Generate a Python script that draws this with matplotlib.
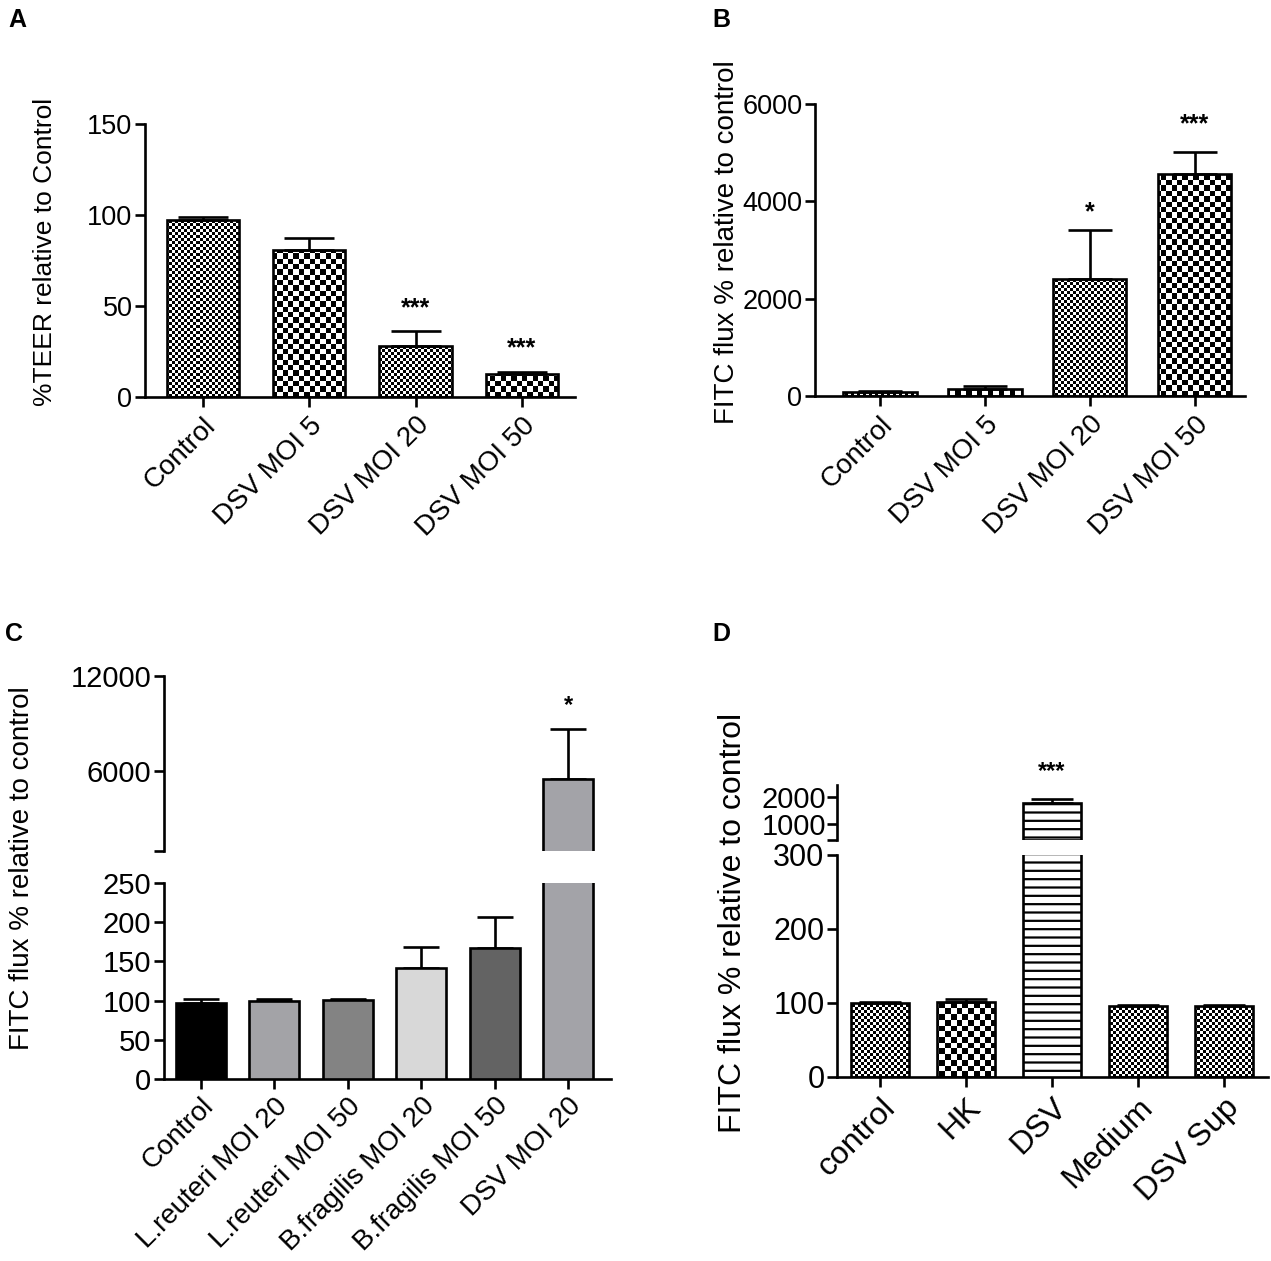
import numpy as np
import matplotlib
matplotlib.use("Agg")
import matplotlib.pyplot as plt

plt.rcParams['font.family'] = ['Liberation Sans', 'DejaVu Sans']
plt.rcParams['hatch.linewidth'] = 1.6

W, H = 1271, 1261
DPI = 100

# ---------------- data ----------------
a_labels = ["Control", "DSV MOI 5", "DSV MOI 20", "DSV MOI 50"]
a_values = [97, 80.5, 28, 12.5]
a_err = [2, 7, 8, 1.5]
a_stars = ["", "", "***", "***"]
a_star_y = [0, 0, 49, 27]
a_pattern = ["fine", "coarse", "fine", "coarse"]

b_labels = ["Control", "DSV MOI 5", "DSV MOI 20", "DSV MOI 50"]
b_values = [80, 150, 2400, 4560]
b_err = [20, 50, 1010, 450]
b_stars = ["", "", "*", "***"]
b_star_y = [0, 0, 3780, 5590]
b_pattern = ["fine", "coarse", "fine", "coarse"]

c_labels = ["Control", "L.reuteri MOI 20", "L.reuteri MOI 50",
            "B.fragilis MOI 20", "B.fragilis MOI 50", "DSV MOI 20"]
c_values = [97, 99, 101, 142, 167, 5500]
c_err = [5, 3, 1.5, 27, 40, 3150]
c_colors = ["#000000", "#a3a3a7", "#838383", "#d8d8d8", "#636363", "#a3a3a8"]
c_stars = ["", "", "", "", "", "*"]
c_star_y = [0, 0, 0, 0, 0, 10170]

d_labels = ["control", "HK", "DSV", "Medium", "DSV Sup"]
d_values = [100, 101, 1780, 96, 96]
d_err = [2, 4, 150, 1.5, 1.5]
d_stars = ["", "", "***", "", ""]
d_star_y = [0, 0, 2960, 0, 0]
d_pattern = ["fine", "coarse", "lines", "fine", "fine"]

fig = plt.figure(figsize=(W / DPI, H / DPI), dpi=DPI)


def px_axes(left, top, right, bottom):
    return fig.add_axes([left / W, 1 - bottom / H, (right - left) / W, (bottom - top) / H])


def style(ax, ytsize, xtsize=None, xpad=4):
    for s in ("top", "right"):
        ax.spines[s].set_visible(False)
    for s in ("left", "bottom"):
        ax.spines[s].set_linewidth(1.9)
    ax.tick_params(axis="both", width=1.9, length=7, direction="out", pad=2)
    ax.tick_params(axis="x", pad=xpad)
    ax.tick_params(axis="y", labelsize=ytsize)
    if xtsize:
        ax.tick_params(axis="x", labelsize=xtsize)


def checker(ax, patch, cell):
    bb = ax.get_position()
    wp, hp = bb.width * W, bb.height * H
    nx = int(np.ceil(wp / cell)) + 1
    ny = int(np.ceil(hp / cell)) + 1
    yy, xx = np.indices((ny, nx))
    arr = ((xx + yy) % 2).astype(float)
    im = ax.imshow(arr, cmap="gray", vmin=0, vmax=1, interpolation="nearest",
                   extent=[0, nx * cell / wp, 0, ny * cell / hp], origin="lower",
                   transform=ax.transAxes, aspect="auto", zorder=2)
    im.set_clip_path(patch)


def draw_bars(ax, x, vals, errs, patterns=None, colors=None, width=0.68,
              bottom=0, cells=(3, 5.5), capsize=13):
    x = np.asarray(x)
    vals = np.asarray(vals, dtype=float)
    errs = np.asarray(errs, dtype=float)
    keep = vals > bottom
    if colors is None:
        colors = ["white"] * len(vals)
    colors = [c for c, k in zip(colors, keep) if k]
    if patterns:
        patterns = [p for p, k in zip(patterns, keep) if k]
    x, vals, errs = x[keep], vals[keep], errs[keep]
    bars = ax.bar(x, vals - bottom, width=width, bottom=bottom, color=colors,
                  edgecolor="black", linewidth=1.9, zorder=3)
    if patterns:
        for b, p in zip(bars, patterns):
            if p == "lines":
                b.set_hatch("--")
                b.set_facecolor("white")
            else:
                b.set_facecolor("none")
                checker(ax, b, cells[0] if p == "fine" else cells[1])
    ax.errorbar(x, vals, yerr=[np.zeros(len(vals)), errs], fmt="none",
                ecolor="black", elinewidth=1.9, capsize=capsize, capthick=1.9, zorder=2.5)
    return bars


def stars(ax, x, labels, ys, size):
    for xi, s, y in zip(x, labels, ys):
        if s:
            ax.text(xi, y, s, ha="center", va="center", fontsize=size,
                    fontweight="bold", clip_on=False)


# ---------------- Panel A ----------------
axA = px_axes(145, 124, 575, 397)
style(axA, 19.5, 20)
xa = np.arange(len(a_values))
draw_bars(axA, xa, a_values, a_err, patterns=a_pattern, cells=(3, 5.3), capsize=18)
stars(axA, xa, a_stars, a_star_y, 18)
axA.set_xlim(-0.545, 3.5)
axA.set_ylim(0, 150)
axA.set_yticks([0, 50, 100, 150])
axA.set_xticks(xa)
axA.set_xticklabels(a_labels, rotation=45, ha="right", rotation_mode="anchor")

# ---------------- Panel B ----------------
axB = px_axes(815, 104, 1245, 396)
style(axB, 19.5, 20)
xb = np.arange(len(b_values))
draw_bars(axB, xb, b_values, b_err, patterns=b_pattern, width=0.7, cells=(3, 5.4), capsize=16)
stars(axB, xb, b_stars, b_star_y, 18)
axB.set_xlim(-0.62, 3.48)
axB.set_ylim(0, 6000)
axB.set_yticks([0, 2000, 4000, 6000])
axB.set_xticks(xb)
axB.set_xticklabels(b_labels, rotation=45, ha="right", rotation_mode="anchor")

# ---------------- Panel C (broken axis) ----------------
axC = px_axes(164, 883, 611, 1079)
axCu = px_axes(164, 676, 611, 851)
style(axC, 21, 20, xpad=3)
style(axCu, 21)
xc = np.arange(len(c_values))
for ax in (axC, axCu):
    draw_bars(ax, xc, c_values, c_err, colors=c_colors, width=0.68, capsize=13)
axCu.spines["bottom"].set_visible(False)
axCu.tick_params(axis="x", bottom=False, labelbottom=False)
stars(axCu, xc, c_stars, c_star_y, 17)
for ax in (axC, axCu):
    ax.set_xlim(-0.5, 5.58)
axC.set_ylim(0, 250)
axC.set_yticks([0, 50, 100, 150, 200, 250])
axCu.set_ylim(1000, 12000)
axCu.set_yticks([1000, 6000, 12000])
axCu.set_yticklabels(["", "6000", "12000"])
axC.set_xticks(xc)
axC.set_xticklabels(c_labels, rotation=45, ha="right", rotation_mode="anchor")

# ---------------- Panel D (broken axis) ----------------
axD = px_axes(837, 855, 1268, 1077)
axDu = px_axes(837, 785, 1268, 840)
style(axD, 22, 23)
style(axDu, 21)
xd = np.arange(len(d_values))
draw_bars(axD, xd, d_values, d_err, patterns=d_pattern, width=0.67, cells=(3, 5.7), capsize=15)
d_up_low = 400
draw_bars(axDu, xd, d_values, d_err, patterns=d_pattern, width=0.67, cells=(3, 5.7),
          capsize=15, bottom=d_up_low)
axDu.spines["bottom"].set_visible(False)
axDu.tick_params(axis="x", bottom=False, labelbottom=False)
axDu.tick_params(axis="y", pad=1)
stars(axDu, xd, d_stars, d_star_y, 17)
for ax in (axD, axDu):
    ax.set_xlim(-0.5, 4.51)
axD.set_ylim(0, 300)
axD.set_yticks([0, 100, 200, 300])
axDu.set_ylim(d_up_low, 2450)
axDu.set_yticks([d_up_low, 1000, 2000])
axDu.set_yticklabels(["", "1000", "2000"])
axD.set_xticks(xd)
axD.set_xticklabels(d_labels, rotation=45, ha="right", rotation_mode="anchor")

# ---------------- labels ----------------
def ylab(x, y, s, size):
    fig.text(x / W, 1 - y / H, s, rotation=90, ha="center", va="center", fontsize=size)

ylab(45, 252, "%TEER relative to Control", 19)
ylab(727, 242, "FITC flux % relative to control", 20)
ylab(22, 868, "FITC flux % relative to control", 20)
ylab(733, 923, "FITC flux % relative to control", 23)

for x, y, s in [(8, 8, "A"), (712, 8, "B"), (5, 622, "C"), (712, 622, "D")]:
    fig.text(x / W, 1 - y / H, s, ha="left", va="top", fontsize=18, fontweight="bold")

fig.savefig("out.png", dpi=DPI)
